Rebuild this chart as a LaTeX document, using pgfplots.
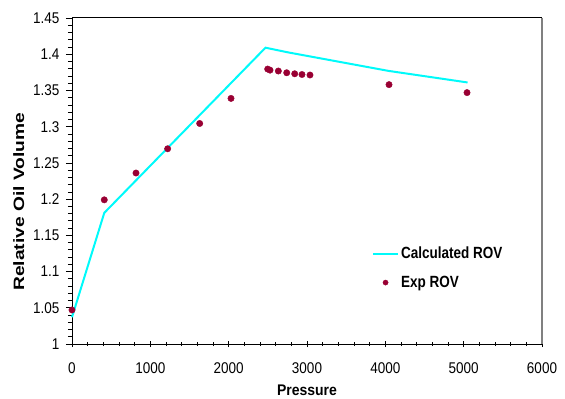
\documentclass[border=0pt]{standalone}
\usepackage{fontspec}
\setmainfont{Liberation Sans}
\usepackage{pgfplots}
\pgfplotsset{compat=1.18}
\usetikzlibrary{calc}
\definecolor{calc}{RGB}{0,250,250}
\definecolor{expc}{RGB}{153,0,51}
\pgfplotsset{
  rovline/.style={legend image code/.code={\draw[#1] (0pt,0pt) -- (25pt,0pt);}},
  rovdot/.style={legend image code/.code={\draw[mark=*, mark size=2.6pt, #1] plot coordinates {(12.5pt,0pt)};}},
}
\begin{document}
\begin{tikzpicture}[x=1pt,y=1pt]
\begin{axis}[
  name=ax,
  at={(0,0)}, anchor=south west,
  scale only axis,
  width=470pt, height=326pt,
  xmin=0, xmax=6000, ymin=1, ymax=1.45,
  xtick={0,1000,...,6000},
  ytick={1,1.05,...,1.45},
  minor x tick num=4,
  minor y tick num=4,
  scaled ticks=false,
  /pgf/number format/assume math mode=true,
  tick label style={font=\fontsize{13.5}{14}\selectfont, yscale=1.15},
  xticklabel style={/pgf/number format/1000 sep={}, yshift=-10pt},
  yticklabel style={/pgf/number format/fixed, /pgf/number format/precision=2, xshift=-3pt},
  axis x line*=bottom, axis y line*=left,
  axis line style={black, line width=1pt},
  x axis line style={-}, y axis line style={-},
  xtick align=center, ytick align=outside,
  major tick length=6pt, minor tick length=4pt,
  every tick/.style={black, line width=0.7pt},
  xlabel={\bfseries Pressure},
  ylabel={\scalebox{1.28}[1]{\bfseries\fontsize{15}{16}\selectfont Relative Oil Volume}},
  xlabel style={font=\fontsize{14}{15}\selectfont, yshift=-4pt, yscale=1.1},
  ylabel style={at={(axis description cs:-0.113,0.436)}, anchor=center, rotate=0},
  legend style={draw=none, fill=none, inner sep=0pt, at={(0.638,0.305)}, anchor=north west,
    font=\bfseries\fontsize{13.5}{14}\selectfont, row sep=10.5pt, cells={anchor=west},
    nodes={yscale=1.2}},
  legend cell align=left,
  clip=false,
]
% calculated relative oil volume
\addplot[calc, line width=2pt, mark=none, rovline] coordinates {
  (0,1.037) (412,1.181) (2470,1.409) (2760,1.4025) (4040,1.377) (5050,1.361)
};
\addlegendentry{Calculated ROV}
% measured relative oil volume
\addplot[only marks, mark=*, mark size=3.2pt, expc, mark options={draw=expc, fill=expc}, rovdot] coordinates {
  (0,1.047) (412,1.199) (817,1.236) (1221,1.2695) (1630,1.3044) (2030,1.339)
  (2498,1.3795) (2528,1.378) (2634,1.3768) (2741,1.3744) (2843,1.373)
  (2936,1.372) (3038,1.3713) (4047,1.358) (5043,1.347)
};
\addlegendentry{Exp ROV}
\end{axis}
% frame on top and right of the plot area
\draw[black, line width=1pt] (ax.north west) -- (ax.north east);
\draw[gray, line width=1.2pt] (ax.north east) -- (ax.south east);
\pgfresetboundingbox
\path ($(ax.south west)+(-72pt,-54pt)$) rectangle ($(ax.north east)+(23pt,18pt)$);
\end{tikzpicture}
\end{document}
